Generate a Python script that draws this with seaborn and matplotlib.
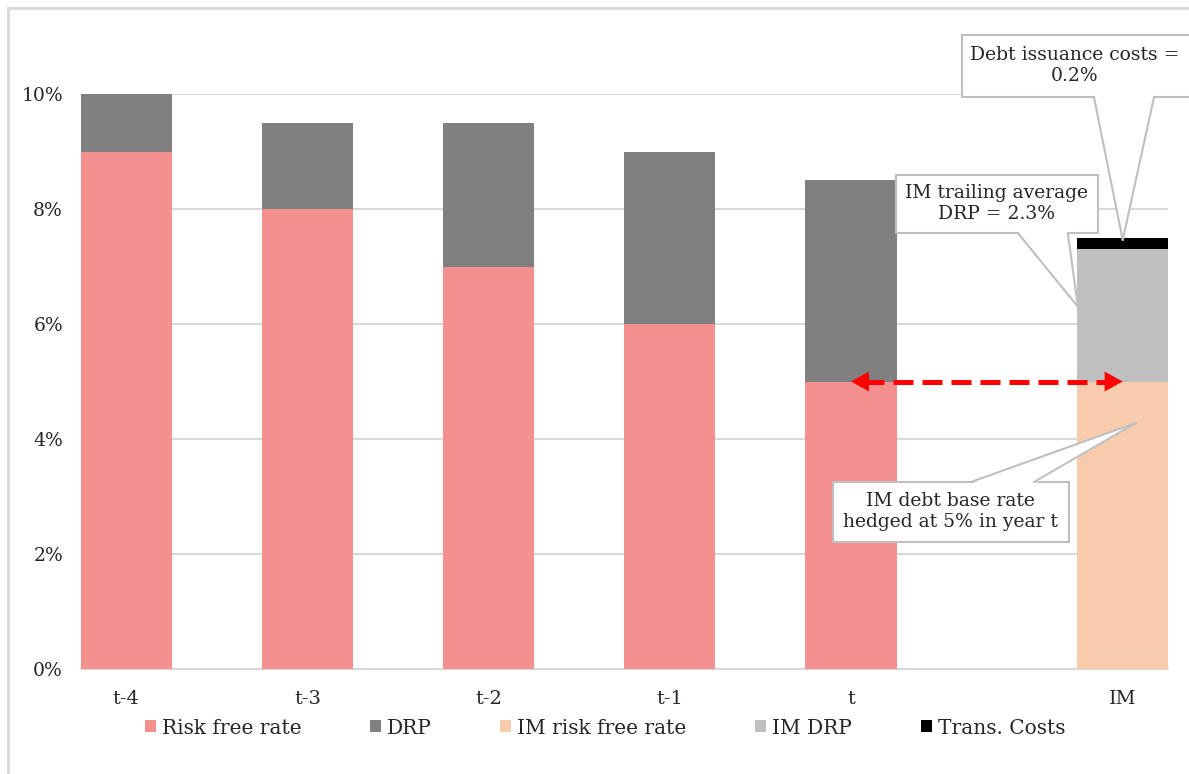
import matplotlib
matplotlib.use("Agg")
import matplotlib.pyplot as plt
from matplotlib.patches import Patch, Rectangle, Polygon
from matplotlib.lines import Line2D
import seaborn as sns
import pandas as pd

# Categories and their positions on the x axis (gap before the IM bar)
categories = ["t-4", "t-3", "t-2", "t-1", "t", "IM"]
positions = [0, 1, 2, 3, 4, 5.5]

# Series values, percent
risk_free = [9.0, 8.0, 7.0, 6.0, 5.0, 0.0]
drp = [1.0, 1.5, 2.5, 3.0, 3.5, 0.0]
im_risk_free = [0.0, 0.0, 0.0, 0.0, 0.0, 5.0]
im_drp = [0.0, 0.0, 0.0, 0.0, 0.0, 2.3]
trans_costs = [0.0, 0.0, 0.0, 0.0, 0.0, 0.2]

y_ticks = [0, 2, 4, 6, 8, 10]

colors = {
    "Risk free rate": "#F4908E",
    "DRP": "#808080",
    "IM risk free rate": "#F8CBAD",
    "IM DRP": "#BFBFBF",
    "Trans. Costs": "#000000",
}

sns.set_theme(style="white")
plt.rcParams["font.family"] = ["DejaVu Serif"]
text_color = "#262626"
callout_edge = "#BFBFBF"

df = pd.DataFrame({
    "pos": positions,
    "rf": risk_free,
    "drp": drp,
    "im_rf": im_risk_free,
    "im_drp": im_drp,
    "trans": trans_costs,
})
df["hist_top"] = df["rf"] + df["drp"]
df["im_mid"] = df["im_rf"] + df["im_drp"]
df["im_top"] = df["im_mid"] + df["trans"]

fig = plt.figure(figsize=(11.89, 7.74), dpi=100)
ax = fig.add_axes([81 / 1189, 1 - 669 / 774, (1168 - 81) / 1189, (669 - 94) / 774])

# Stacked bars: draw cumulative tops first, lower segments over them
layers = [
    ("hist_top", colors["DRP"]),
    ("rf", colors["Risk free rate"]),
    ("im_top", colors["Trans. Costs"]),
    ("im_mid", colors["IM DRP"]),
    ("im_rf", colors["IM risk free rate"]),
]
for col, c in layers:
    sns.barplot(data=df, x="pos", y=col, native_scale=True, color=c,
                width=0.503, errorbar=None, linewidth=0, saturation=1,
                ax=ax, zorder=2)

ax.set_xlim(-0.25, 5.75)
ax.set_ylim(0, 10)
ax.set_xticks(positions)
ax.set_xticklabels(categories)
ax.set_yticks(y_ticks)
ax.set_yticklabels([f"{v}%" for v in y_ticks])
ax.set_xlabel("")
ax.set_ylabel("")
ax.tick_params(axis="both", length=0, colors=text_color)
ax.tick_params(axis="x", pad=15, labelsize=14)
ax.tick_params(axis="y", pad=13, labelsize=13.5)
ax.yaxis.grid(True, color="#D9D9D9", linewidth=1.5, zorder=0)
ax.set_axisbelow(True)
for side in ["top", "right", "left"]:
    ax.spines[side].set_visible(False)
ax.spines["bottom"].set_color("#D9D9D9")
ax.spines["bottom"].set_linewidth(1.5)
ax.spines["bottom"].set_zorder(1)

# Red dashed double-headed arrow at the hedged base rate
base = risk_free[4]
ax.plot([positions[4] + 0.07, positions[5] - 0.07], [base, base],
        color="red", linewidth=3.6, linestyle=(0, (4, 1.8)), zorder=4)
head = dict(arrowstyle="-|>,head_length=1.0,head_width=0.55", color="red",
            lw=0, shrinkA=0, shrinkB=0, mutation_scale=13)
ax.annotate("", xy=(positions[4], base), xytext=(positions[4] + 0.1, base),
            arrowprops=head, zorder=5)
ax.annotate("", xy=(positions[5], base), xytext=(positions[5] - 0.1, base),
            arrowprops=head, zorder=5)


def callout(text, box, text_xy, base_pts, tip):
    """Rectangular callout with a wedge pointer, drawn in data coordinates."""
    x0, y0, x1, y1 = box
    ax.add_patch(Rectangle((x0, y0), x1 - x0, y1 - y0, facecolor="white",
                           edgecolor=callout_edge, linewidth=1.5, zorder=6,
                           clip_on=False))
    (bx0, by), (bx1, _) = base_pts
    inset = 0.03 if by <= y0 + 1e-9 else -0.03
    ax.add_patch(Polygon([(bx0, by + inset), tip, (bx1, by + inset)],
                         closed=True, facecolor="white", edgecolor="none",
                         zorder=7, clip_on=False))
    for bx in (bx0, bx1):
        ax.add_line(Line2D([bx, tip[0]], [by, tip[1]], color=callout_edge,
                           linewidth=1.5, zorder=7, clip_on=False))
    ax.text(text_xy[0], text_xy[1], text, ha="center", va="center",
            fontsize=13.5, color=text_color, linespacing=1.2, zorder=8)


im = positions[5]
im_total = im_risk_free[5] + im_drp[5] + trans_costs[5]

callout("Debt issuance costs =\n0.2%",
        box=(4.612, 9.948, 5.95, 11.026), text_xy=(5.236, 10.50),
        base_pts=[(5.341, 9.948), (5.673, 9.948)], tip=(im, im_total - 0.04))
callout("IM trailing average\nDRP = 2.3%",
        box=(4.247, 7.583, 5.363, 8.591), text_xy=(4.805, 8.10),
        base_pts=[(4.921, 7.583), (5.197, 7.583)], tip=(5.253, 6.30))
callout("IM debt base rate\nhedged at 5% in year t",
        box=(3.899, 2.209, 5.203, 3.252), text_xy=(4.551, 2.74),
        base_pts=[(4.662, 3.252), (5.010, 3.252)], tip=(5.573, 4.28))

# Legend
order = ["Risk free rate", "DRP", "IM risk free rate", "IM DRP", "Trans. Costs"]
handles = [Patch(facecolor=colors[k], edgecolor="none", label=k) for k in order]
fig.legend(handles=handles, loc="center", bbox_to_anchor=(605 / 1189, 1 - 728 / 774),
           ncol=5, frameon=False, fontsize=14.5, handlelength=0.55, handleheight=0.55,
           handletextpad=0.3, columnspacing=3.4, labelcolor=text_color)

# Chart frame
fig.add_artist(Rectangle((8 / 1189, -0.05), 1.1, 1 - 8 / 774 + 0.05,
                         transform=fig.transFigure, fill=False,
                         edgecolor="#D9D9D9", linewidth=2, zorder=0))

fig.savefig("out.png", dpi=100)
